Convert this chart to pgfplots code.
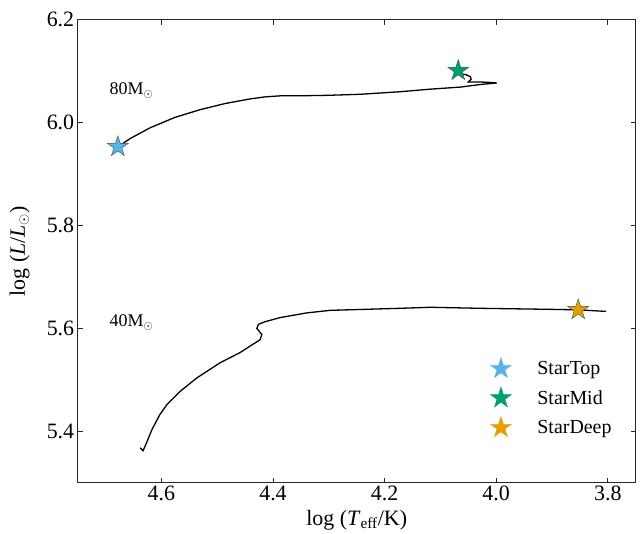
\documentclass[border=0pt]{standalone}
\usepackage{fontspec}
\setmainfont{Liberation Serif}
\usepackage{pgfplots}
\pgfplotsset{compat=1.18}

% filled five-pointed star marker
\pgfdeclareplotmark{fivestar}{%
  \pgfpathmoveto{\pgfpointpolar{90}{\pgfplotmarksize}}%
  \pgfpathlineto{\pgfpointpolar{126}{0.382\pgfplotmarksize}}%
  \pgfpathlineto{\pgfpointpolar{162}{\pgfplotmarksize}}%
  \pgfpathlineto{\pgfpointpolar{198}{0.382\pgfplotmarksize}}%
  \pgfpathlineto{\pgfpointpolar{234}{\pgfplotmarksize}}%
  \pgfpathlineto{\pgfpointpolar{270}{0.382\pgfplotmarksize}}%
  \pgfpathlineto{\pgfpointpolar{306}{\pgfplotmarksize}}%
  \pgfpathlineto{\pgfpointpolar{342}{0.382\pgfplotmarksize}}%
  \pgfpathlineto{\pgfpointpolar{18}{\pgfplotmarksize}}%
  \pgfpathlineto{\pgfpointpolar{54}{0.382\pgfplotmarksize}}%
  \pgfpathclose
  \pgfusepathqfillstroke
}

\definecolor{startop}{HTML}{56B4E9}
\definecolor{starmid}{HTML}{009E73}
\definecolor{stardeep}{HTML}{E69F00}

% legend symbol: the star alone, outlined in its own fill colour
\pgfplotsset{
  starleg/.style={legend image code/.code={%
    \begin{scope}[##1, draw=#1]
      \pgftransformshift{\pgfpoint{11bp}{0pt}}%
      \pgfuseplotmark{fivestar}%
    \end{scope}}},
}

\begin{document}
\begin{tikzpicture}
\begin{axis}[
  scale only axis,
  width=558bp, height=463bp,
  x dir=reverse,
  xmin=3.75, xmax=4.75,
  ymin=5.3, ymax=6.2,
  xtick={3.8,4.0,4.2,4.4,4.6},
  ytick={5.4,5.6,5.8,6.0,6.2},
  xticklabel style={/pgf/number format/.cd, fixed, fixed zerofill, precision=1},
  yticklabel style={/pgf/number format/.cd, fixed, fixed zerofill, precision=1},
  /pgf/number format/assume math mode=true,
  tick label style={font=\fontsize{22}{26}\selectfont},
  label style={font=\fontsize{22}{26}\selectfont},
  tick align=inside,
  major tick length=5bp,
  axis line style={black!85, line width=1.1bp},
  every tick/.style={black!85, line width=0.8bp},
  xlabel={log (\textit{T}\textsubscript{eff}/K)},
  ylabel={log (\textit{L}/\textit{L}$_\odot$)},
  xlabel style={at={(axis description cs:0.5,-0.0806)}, anchor=center},
  ylabel style={at={(axis description cs:-0.104,0.5)}, anchor=center},
  clip=false,
  legend style={draw=none, fill=none, font=\fontsize{20}{24}\selectfont,
    at={(axis description cs:0.966,0.094)}, anchor=south east,
    row sep=9bp,
    /tikz/every odd column/.append style={column sep=24bp}},
  legend cell align=left,
]

% 80 Msun track
\addplot[black, line width=1.3bp, forget plot] coordinates {
  (4.678,5.953) (4.656,5.969) (4.620,5.990) (4.576,6.010) (4.531,6.025)
  (4.486,6.037) (4.441,6.046) (4.414,6.050) (4.387,6.052) (4.357,6.052)
  (4.302,6.053) (4.244,6.055) (4.172,6.060) (4.118,6.065) (4.064,6.069)
  (4.029,6.074) (3.999,6.077) (4.011,6.078) (4.030,6.079) (4.050,6.079)
  (4.045,6.084) (4.046,6.089) (4.054,6.093) (4.065,6.095)
};

% 40 Msun track
\addplot[black, line width=1.3bp, forget plot] coordinates {
  (4.638,5.368) (4.633,5.362) (4.628,5.374) (4.617,5.403) (4.603,5.432)
  (4.590,5.452) (4.567,5.477) (4.536,5.504) (4.495,5.533) (4.459,5.553)
  (4.423,5.578) (4.420,5.588) (4.429,5.600) (4.426,5.608) (4.414,5.613)
  (4.387,5.621) (4.340,5.630) (4.298,5.635) (4.172,5.639) (4.118,5.641)
  (4.029,5.639) (3.904,5.637) (3.853,5.636) (3.803,5.633)
};

\node[anchor=west, font=\fontsize{18}{22}\selectfont] at (axis cs:4.699,6.062) {80M$_\odot$};
\node[anchor=west, font=\fontsize{18}{22}\selectfont] at (axis cs:4.699,5.611) {40M$_\odot$};

\addplot[only marks, mark=fivestar, mark size=11bp, fill=startop, draw=black!70, line width=0.4bp, starleg=startop]
  coordinates {(4.678,5.953)};
\addlegendentry{StarTop}
\addplot[only marks, mark=fivestar, mark size=11bp, fill=starmid, draw=black!70, line width=0.4bp, starleg=starmid]
  coordinates {(4.068,6.101)};
\addlegendentry{StarMid}
\addplot[only marks, mark=fivestar, mark size=11bp, fill=stardeep, draw=black!70, line width=0.4bp, starleg=stardeep]
  coordinates {(3.853,5.636)};
\addlegendentry{StarDeep}
\end{axis}
\path (current axis.south west) ++(-77.7bp,-50.3bp) rectangle ++(643bp,533bp);
\end{tikzpicture}
\end{document}
